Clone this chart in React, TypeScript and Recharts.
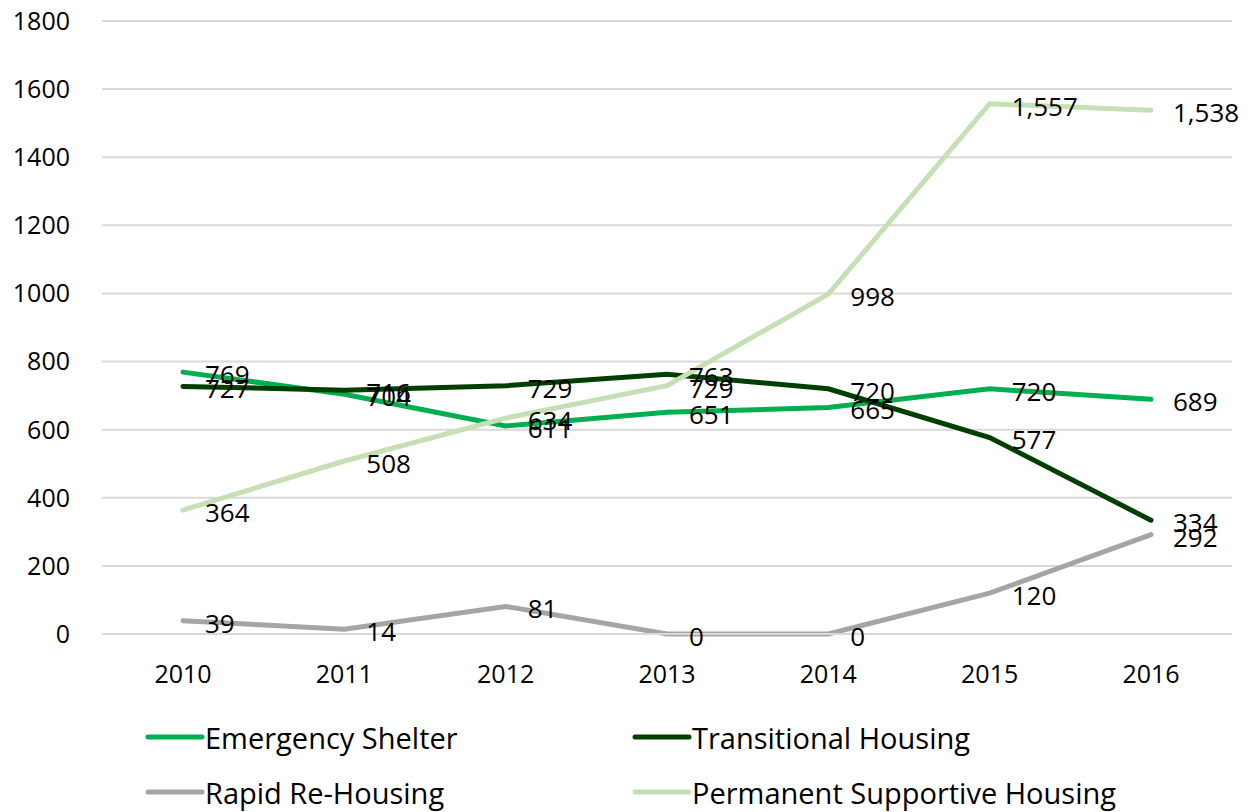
import { LineChart, Line, XAxis, YAxis, CartesianGrid, Legend, LabelList } from 'recharts';

const years = ['2010', '2011', '2012', '2013', '2014', '2015', '2016'];
const emergencyShelter = [769, 704, 611, 651, 665, 720, 689];
const transitionalHousing = [727, 716, 729, 763, 720, 577, 334];
const rapidReHousing = [39, 14, 81, 0, 0, 120, 292];
const permanentSupportive = [364, 508, 634, 729, 998, 1557, 1538];
const yTicks = [0, 200, 400, 600, 800, 1000, 1200, 1400, 1600, 1800];

const series = [
  { key: 'es', name: 'Emergency Shelter', color: '#00B050' },
  { key: 'th', name: 'Transitional Housing', color: '#003F00' },
  { key: 'rrh', name: 'Rapid Re-Housing', color: '#A5A5A5' },
  { key: 'psh', name: 'Permanent Supportive Housing', color: '#C5E0B4' },
];

const data = years.map((year, i) => ({
  year,
  es: emergencyShelter[i],
  th: transitionalHousing[i],
  rrh: rapidReHousing[i],
  psh: permanentSupportive[i],
}));

const FONT = '"Open Sans", sans-serif';

const PointLabel = (props: any) => {
  const { x, y, value } = props;
  return (
    <text
      x={x + 22}
      y={y + 5}
      fontSize={26}
      fontFamily={FONT}
      fill="#000"
      textAnchor="start"
      dominantBaseline="middle"
    >
      {Number(value).toLocaleString('en-US')}
    </text>
  );
};

const LegendBox = () => (
  <div
    style={{
      display: 'grid',
      gridTemplateColumns: '487px 580px',
      rowGap: 17,
      paddingLeft: 145,
      fontFamily: FONT,
      fontSize: 29,
      color: '#000',
    }}
  >
    {series.map((s) => (
      <div key={s.key} style={{ display: 'flex', alignItems: 'center', height: 38 }}>
        <svg width={60} height={10}>
          <line x1={3} y1={5} x2={57} y2={5} stroke={s.color} strokeWidth={5} strokeLinecap="round" />
        </svg>
        <span>{s.name}</span>
      </div>
    ))}
  </div>
);

export default function App() {
  return (
    <div style={{ position: 'absolute', left: 0, top: 0, background: '#fff' }}>
      <LineChart width={1252} height={812} data={data} margin={{ top: 21, right: 20, bottom: 118, left: 0 }}>
        <CartesianGrid vertical={false} stroke="#D9D9D9" strokeWidth={2} />
        <XAxis
          dataKey="year"
          padding={{ left: 81, right: 81 }}
          axisLine={{ stroke: '#D9D9D9', strokeWidth: 2 }}
          tickLine={false}
          tickSize={0}
          tickMargin={31}
          tick={{ fill: '#000', fontSize: 25, fontFamily: FONT }}
          height={60}
        />
        <YAxis
          domain={[0, 1800]}
          ticks={yTicks}
          width={102}
          axisLine={false}
          tickLine={false}
          tickSize={0}
          tickMargin={32}
          tick={{ fill: '#000', fontSize: 25, fontFamily: FONT }}
        />
        <Legend
          layout="vertical"
          align="center"
          verticalAlign="middle"
          content={<LegendBox />}
          wrapperStyle={{ top: 718, left: 0, width: 1252 }}
        />
        {series.map((s) => (
          <Line
            key={s.key}
            dataKey={s.key}
            name={s.name}
            stroke={s.color}
            strokeWidth={5}
            strokeLinecap="round"
            dot={false}
            type="linear"
            isAnimationActive={false}
          >
            <LabelList dataKey={s.key} content={<PointLabel />} />
          </Line>
        ))}
      </LineChart>
    </div>
  );
}
